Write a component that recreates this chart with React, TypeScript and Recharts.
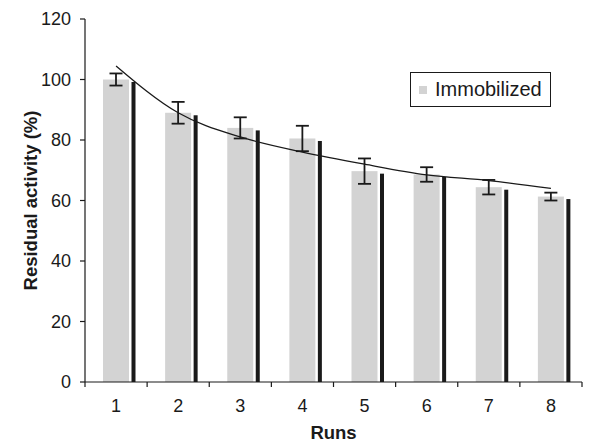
import React from 'react'
import {
  ComposedChart, Bar, Line, XAxis, YAxis, ErrorBar,
} from 'recharts'

const runs = ['1', '2', '3', '4', '5', '6', '7', '8']
const activity = [100, 89, 84, 80.5, 69.7, 68.6, 64.4, 61.3]
const errors = [2, 3.6, 3.5, 4.2, 4.2, 2.4, 2.4, 1.3]
const trend = [104.5, 89, 81, 76, 72, 68.5, 66.6, 64]
const yTicks = [0, 20, 40, 60, 80, 100, 120]
const seriesName = 'Immobilized'

const data = runs.map((run, i) => ({
  run,
  activity: activity[i],
  err: errors[i],
  trend: trend[i],
}))

const W = 589
const H = 434
const margin = { top: 11, right: 15, left: 20, bottom: 0 }
const yAxisWidth = 57
const plotW = W - margin.left - margin.right - yAxisWidth
const band = plotW / runs.length

const font = '"Liberation Sans", Arial, sans-serif'
const ink = '#1a1a1a'
const barGray = '#d3d3d3'

// gray bar with the dark "side" strip to its right
function ShadowBar(props: any) {
  const { x, y, width, height } = props
  if (height == null || height <= 0) return null
  return (
    <g>
      <rect x={x} y={y} width={width} height={height} fill={barGray} />
      <rect x={x + width + 2.5} y={y + 2.5} width={4} height={height - 2.5} fill={ink} />
    </g>
  )
}

// category label centred, tick marks on the category boundaries
function RunTick(props: any) {
  const { x, y, payload, index } = props
  const last = index === runs.length - 1
  return (
    <g>
      <line x1={x - band / 2} y1={y} x2={x - band / 2} y2={y + 5} stroke={ink} strokeWidth={1.2} />
      {last && <line x1={x + band / 2} y1={y} x2={x + band / 2} y2={y + 5} stroke={ink} strokeWidth={1.2} />}
      <text x={x} y={y + 29.5} textAnchor="middle" fontSize={18} fontFamily={font} fill={ink}>
        {payload.value}
      </text>
    </g>
  )
}

function YTitle(props: any) {
  const { viewBox } = props
  const cx = viewBox.x + 2
  const cy = viewBox.y + viewBox.height / 2
  return (
    <text
      x={cx} y={cy} transform={`rotate(-90, ${cx}, ${cy})`}
      textAnchor="middle" dominantBaseline="central"
      fontSize={18.5} fontWeight="bold" fontFamily={font} fill={ink}
    >
      Residual activity (%)
    </text>
  )
}

function XTitle(props: any) {
  const { viewBox } = props
  return (
    <text
      x={viewBox.x + viewBox.width / 2} y={viewBox.y + 57}
      textAnchor="middle" fontSize={18.5} fontWeight="bold" fontFamily={font} fill={ink}
    >
      Runs
    </text>
  )
}

export default function App() {
  return (
    <div style={{ position: 'relative', width: W, height: H }}>
      <ComposedChart width={W} height={H} data={data} margin={margin}>
        <XAxis
          dataKey="run"
          height={60}
          tickLine={false}
          tickSize={0}
          tickMargin={0}
          tick={<RunTick />}
          axisLine={{ stroke: ink, strokeWidth: 1.2 }}
          label={<XTitle />}
          interval={0}
        />
        <YAxis
          width={yAxisWidth}
          domain={[0, 120]}
          ticks={yTicks}
          tickSize={5}
          tickMargin={9}
          tick={{ fill: ink, fontSize: 18, fontFamily: font }}
          tickLine={{ stroke: ink, strokeWidth: 1.2 }}
          axisLine={{ stroke: ink, strokeWidth: 1.2 }}
          label={<YTitle />}
        />
        <Bar
          dataKey="activity"
          name={seriesName}
          barSize={26}
          shape={<ShadowBar />}
          isAnimationActive={false}
        >
          <ErrorBar dataKey="err" width={6.5} stroke={ink} strokeWidth={1.8} />
        </Bar>
        <Line
          type="monotone"
          dataKey="trend"
          stroke={ink}
          strokeWidth={1.3}
          dot={false}
          activeDot={false}
          isAnimationActive={false}
          legendType="none"
        />
      </ComposedChart>
      <div
        style={{
          position: 'absolute', left: 402, top: 64, width: 141, height: 35,
          boxSizing: 'border-box', border: `1.5px solid ${ink}`,
          display: 'flex', alignItems: 'center', paddingLeft: 8,
          fontFamily: font, fontSize: 20, color: ink, whiteSpace: 'nowrap',
        }}
      >
        <span style={{ width: 8, height: 8, background: barGray, marginRight: 8, display: 'inline-block' }} />
        {seriesName}
      </div>
    </div>
  )
}
